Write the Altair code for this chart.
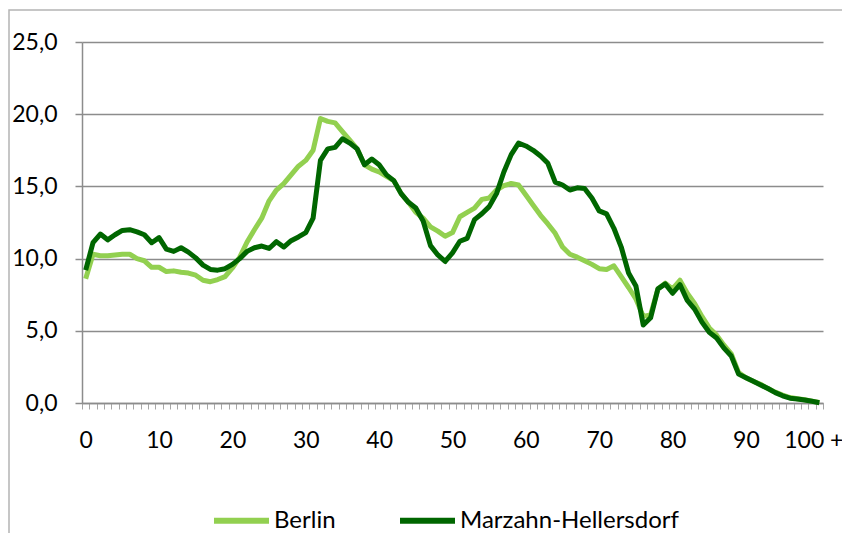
import altair as alt
import pandas as pd

# ---- data ----
ages = list(range(101))
berlin = [8.6, 10.3, 10.2, 10.2, 10.25, 10.3, 10.3, 10.0, 9.85, 9.4,
          9.4, 9.1, 9.15, 9.05, 9.0, 8.85, 8.5, 8.4, 8.55, 8.75,
          9.35, 10.1, 11.15, 12.0, 12.8, 14.0, 14.75, 15.2, 15.8, 16.4,
          16.8, 17.5, 19.7, 19.5, 19.4, 18.8, 18.2, 17.6, 16.5, 16.2,
          16.0, 15.7, 15.4, 14.5, 13.9, 13.2, 12.8, 12.2, 11.9, 11.55,
          11.8, 12.9, 13.2, 13.5, 14.1, 14.2, 14.75, 15.05, 15.2, 15.1,
          14.4, 13.7, 13.0, 12.4, 11.75, 10.8, 10.3, 10.1, 9.85, 9.6,
          9.3, 9.25, 9.5, 8.75, 8.0, 7.2, 6.0, 6.1, 7.9, 8.3,
          7.9, 8.5, 7.6, 6.9, 6.0, 5.2, 4.7, 4.0, 3.4, 2.1,
          1.75, 1.5, 1.3, 1.0, 0.75, 0.55, 0.38, 0.3, 0.22, 0.13,
          0.03]
marzahn = [9.2, 11.1, 11.7, 11.3, 11.65, 11.95, 12.0, 11.85, 11.65, 11.1,
           11.45, 10.65, 10.5, 10.75, 10.45, 10.05, 9.55, 9.25, 9.2, 9.3,
           9.6, 10.0, 10.5, 10.75, 10.87, 10.7, 11.17, 10.8, 11.24, 11.5,
           11.8, 12.8, 16.8, 17.6, 17.7, 18.3, 18.0, 17.6, 16.5, 16.9,
           16.5, 15.8, 15.4, 14.5, 13.9, 13.5, 12.6, 10.9, 10.25, 9.8,
           10.4, 11.2, 11.4, 12.7, 13.1, 13.6, 14.5, 16.0, 17.2, 18.0,
           17.8, 17.5, 17.1, 16.6, 15.3, 15.1, 14.75, 14.9, 14.85, 14.2,
           13.3, 13.1, 12.1, 10.8, 9.0, 8.1, 5.4, 5.9, 7.9, 8.25,
           7.6, 8.2, 7.1, 6.5, 5.6, 4.9, 4.5, 3.8, 3.25, 2.0,
           1.75, 1.5, 1.25, 1.0, 0.72, 0.5, 0.33, 0.28, 0.21, 0.12,
           0.02]
series_names = ["Berlin", "Marzahn-Hellersdorf"]
series_colors = ["#92d050", "#006600"]
y_ticks = [0, 5, 10, 15, 20, 25]

rows = []
for a, b in zip(ages, berlin):
    rows.append({"age": a, "series": series_names[0], "value": b})
for a, m in zip(ages, marzahn):
    rows.append({"age": a, "series": series_names[1], "value": m})
df = pd.DataFrame(rows)

tick_positions = [a - 0.5 for a in range(len(ages) + 1)]

FONT = "Lato"
W, H = 741, 361
GRID = "#8c8c8c"
half = W / len(ages) / 2

x_axis = alt.Axis(
    values=tick_positions,
    labelExpr="((datum.value + 0.5) % 10 == 0) ? (((datum.value + 0.5) == 100) ? '100 +' : format(datum.value + 0.5, 'd')) : ''",
    labelOffset={"condition": {"test": "datum.value == 99.5", "value": half - 6}, "value": half},
    tickSize=6, tickColor="#a6a6a6", tickWidth=1,
    domainColor=GRID, domainWidth=1.5,
    labelFont=FONT, labelFontSize=23, labelColor="black", labelPadding=20,
    labelOverlap=False, labelFlush=False, labelBound=False, labelLimit=0,
    grid=False, title=None,
)
y_axis = alt.Axis(
    values=y_ticks,
    labelExpr="replace(format(datum.value, '.1f'), '.', ',')",
    tickSize=7, tickColor=GRID, tickWidth=1.5,
    domainColor=GRID, domainWidth=1.5,
    grid=True, gridColor=GRID, gridWidth=1.5,
    labelFont=FONT, labelFontSize=23, labelColor="black", labelPadding=18,
    title=None,
)

lines = alt.Chart(df).mark_line(strokeWidth=5, strokeJoin="round").encode(
    x=alt.X("age:Q", scale=alt.Scale(domain=[-0.5, 100.5], nice=False, zero=False), axis=x_axis),
    y=alt.Y("value:Q", scale=alt.Scale(domain=[0, 25], nice=False), axis=y_axis),
    color=alt.Color(
        "series:N",
        scale=alt.Scale(domain=series_names, range=series_colors),
        sort=series_names,
        legend=alt.Legend(
            title=None, orient="none", legendX=129, legendY=448,
            direction="horizontal", symbolType="stroke", symbolSize=3025,
            symbolStrokeWidth=6, labelFont=FONT, labelFontSize=24,
            labelColor="black", labelOffset=2, columnPadding=52, padding=0,
            labelLimit=0,
        ),
    ),
    order=alt.Order("age:Q"),
)

frame = alt.Chart(pd.DataFrame({"k": [0]})).mark_rect(
    filled=False, stroke="#b4b4b4", strokeWidth=1.5
).encode(
    x=alt.value(-73), x2=alt.value(900), y=alt.value(-32), y2=alt.value(700)
)

chart = alt.layer(frame, lines).properties(
    width=W, height=H,
    autosize=alt.AutoSizeParams(type="none"),
    padding={"left": 74, "top": 34, "right": 19, "bottom": 130},
).configure_view(stroke="transparent")

chart.save("out.html", embed_options={"renderer": "svg", "actions": False})
